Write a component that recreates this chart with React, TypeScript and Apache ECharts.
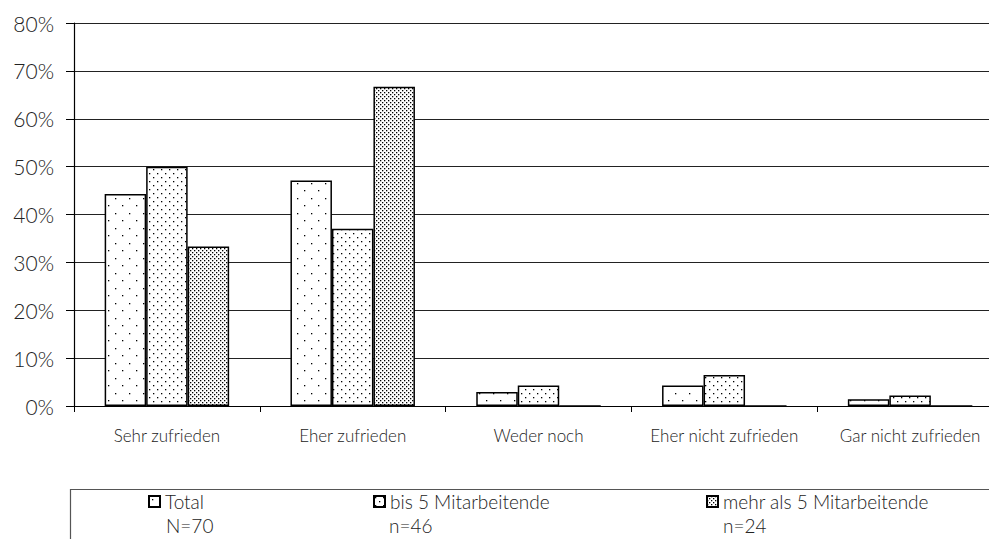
import React, { useEffect, useRef } from "react";
import * as echarts from "echarts";

const categories = ["Sehr zufrieden", "Eher zufrieden", "Weder noch", "Eher nicht zufrieden", "Gar nicht zufrieden"];
const seriesNames = ["Total", "bis 5 Mitarbeitende", "mehr als 5 Mitarbeitende"];
const sampleSizes = ["N=70", "n=46", "n=24"];
const totalValues = [44.3, 47.1, 2.9, 4.3, 1.4];
const bis5Values = [50.0, 37.0, 4.3, 6.5, 2.2];
const mehr5Values = [33.3, 66.7, 0, 0, 0];
const yTicks = [0, 10, 20, 30, 40, 50, 60, 70, 80];

const FONT = "Lato, 'Open Sans', sans-serif";

function makePattern(w: number, h: number, dots: [number, number][]) {
  const c = document.createElement("canvas");
  c.width = w;
  c.height = h;
  const ctx = c.getContext("2d")!;
  ctx.fillStyle = "#ffffff";
  ctx.fillRect(0, 0, w, h);
  ctx.fillStyle = "#000000";
  dots.forEach(([x, y]) => ctx.fillRect(x, y, 1.3, 1.3));
  return { image: c, repeat: "repeat" as const };
}

export default function App() {
  const ref = useRef<HTMLDivElement>(null);
  useEffect(() => {
    if (!ref.current) return;
    const chart = echarts.init(ref.current, undefined, { renderer: "svg" });
    const patterns = [
      makePattern(14, 15, [[3, 3], [10, 10]]),
      makePattern(8, 8, [[1, 1], [5, 5]]),
      makePattern(4, 4, [[0, 0], [2, 2]]),
    ];
    const data = [totalValues, bis5Values, mehr5Values];
    const legendX = [148, 373, 706];
    const countX = [166, 389, 723];
    chart.setOption({
      animation: false,
      textStyle: { fontFamily: FONT, fontWeight: 300 },
      grid: { left: 74, width: 929, top: 23, bottom: 133, containLabel: false, outerBoundsMode: "none" },
      xAxis: {
        type: "category",
        data: categories,
        axisLine: { show: true, lineStyle: { color: "#000", width: 1.2 } },
        axisTick: { show: true, length: 6, inside: false, lineStyle: { color: "#000" } },
        axisLabel: { color: "#222", fontSize: 17, fontWeight: 300, margin: 21, fontFamily: FONT, interval: 0 },
      },
      yAxis: {
        type: "value",
        min: 0,
        max: 80,
        interval: 10,
        axisLine: { show: true, lineStyle: { color: "#000", width: 1.2 } },
        axisTick: { show: true, length: 8, lineStyle: { color: "#000" } },
        axisLabel: { color: "#222", fontSize: 21, fontWeight: 300, margin: 20, fontFamily: FONT, formatter: (v: number) => (yTicks.includes(v) ? v + "%" : "") },
        splitLine: { show: true, lineStyle: { color: "#222", width: 1 } },
      },
      legend: seriesNames.map((name, i) => ({
        data: [name],
        left: legendX[i],
        top: 492,
        icon: "rect",
        itemWidth: 11,
        itemHeight: 11,
        itemGap: 6,
        padding: 0,
        textStyle: { fontSize: 19, fontWeight: 300, color: "#222", fontFamily: FONT },
      })),
      graphic: [
        {
          type: "rect",
          left: 68,
          top: 487,
          shape: { width: 1000, height: 100 },
          style: { fill: "none", stroke: "#555", lineWidth: 1.2 },
          silent: true,
        },
        ...sampleSizes.map((s, i) => ({
          type: "text",
          left: countX[i],
          top: 516,
          style: { text: s, fontSize: 19, fontWeight: 300, fill: "#222", fontFamily: FONT },
        })),
      ],
      series: seriesNames.map((name, i) => ({
        name,
        type: "bar",
        data: data[i],
        barGap: "0%",
        barCategoryGap: "33%",
        itemStyle: { color: patterns[i], borderColor: "#000", borderWidth: 1.5 },
        emphasis: { disabled: true },
      })),
    });
    return () => chart.dispose();
  }, []);
  return <div ref={ref} style={{ width: 989, height: 539, position: "absolute", left: 0, top: 0 }} />;
}
